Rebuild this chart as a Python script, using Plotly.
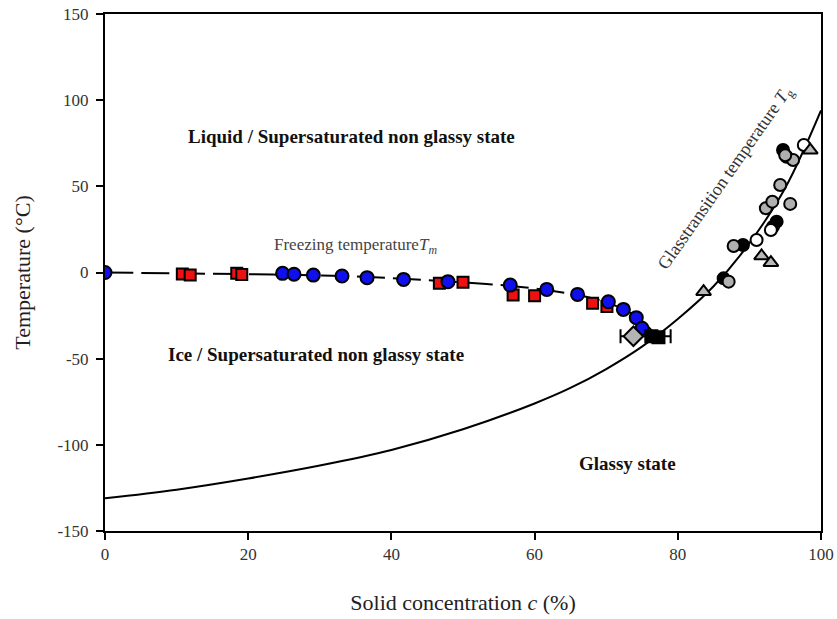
import plotly.graph_objects as go

# Freezing curve (Tm) and glass transition curve (Tg), read as T (°C) vs solid concentration c (%)
tm_curve_c = [0, 10, 20, 30, 35, 40, 45, 50, 55, 60, 63, 66, 69, 72, 74, 76, 77]
tm_curve_t = [0, -0.5, -1.0, -1.7, -2.3, -3.3, -4.4, -5.8, -7.2, -9.3, -11, -13, -16, -20.5, -25, -32, -37]

tg_curve_c = [0, 10, 20, 30, 40, 50, 60, 65, 70, 75, 80, 85, 90, 95, 100]
tg_curve_t = [-131, -126, -119.5, -112, -103, -91, -76, -67, -56, -43, -27, -8, 17, 49, 94]

# Freezing point measurements
blue_c = [0, 24.8, 26.4, 29.1, 33.1, 36.6, 41.7, 47.9, 56.6, 61.7, 66.0, 70.3, 72.4, 74.2, 75.0]
blue_t = [0, -0.5, -1.0, -1.5, -2.0, -3.0, -4.0, -5.3, -7.3, -9.8, -12.7, -17.0, -21.4, -26.2, -32.4]

red_c = [10.8, 11.9, 18.4, 19.1, 46.7, 50.0, 57.0, 60.0, 68.1, 70.1]
red_t = [-0.8, -1.5, -0.5, -1.2, -6.3, -5.7, -13.0, -13.5, -17.9, -19.8]

# Maximally freeze-concentrated point with uncertainty
tmp_c = [75.5]
tmp_t = [-37]
tmp_err = [3.5]

diamond_c = [73.8]
diamond_t = [-37]

black_sq_c = [76.3, 77.3]
black_sq_t = [-37, -37.5]

# Glass transition measurements
gray_circ_c = [87.1, 87.8, 92.3, 93.2, 95.7, 94.3, 96.1, 95.0]
gray_circ_t = [-5.3, 15.4, 37.3, 41.1, 39.8, 50.8, 65.3, 68.0]

black_circ_c = [86.4, 89.1, 93.3, 93.8, 94.7, 95.2]
black_circ_t = [-3.4, 16.0, 26.6, 29.5, 71.1, 67.2]

white_circ_c = [91.0, 93.0, 97.6]
white_circ_t = [18.9, 24.7, 74.0]

gray_tri_c = [83.6, 91.7, 93.0, 98.5]
gray_tri_t = [-11.1, 9.6, 5.7, 71.0]

# Axis ticks
x_ticks = [0, 20, 40, 60, 80, 100]
x_tick_labels = ["0", "20", "40", "60", "80", "100"]
y_ticks = [-150, -100, -50, 0, 50, 100, 150]
y_tick_labels = ["-150", "-100", "-50", "0", "50", "100", "150"]

SERIF = "Liberation Serif, Times New Roman, serif"
OUT = dict(color="black", width=2)

fig = go.Figure()

fig.add_trace(go.Scatter(x=tg_curve_c, y=tg_curve_t, mode="lines",
                         line=dict(color="black", width=2, shape="spline"),
                         hoverinfo="skip"))
fig.add_trace(go.Scatter(x=tm_curve_c, y=tm_curve_t, mode="lines",
                         line=dict(color="black", width=2, shape="spline", dash="28px,8px"),
                         hoverinfo="skip"))

fig.add_trace(go.Scatter(x=tmp_c, y=tmp_t, mode="markers",
                         marker=dict(size=1, color="black", opacity=0),
                         error_x=dict(type="data", array=tmp_err, color="black",
                                      thickness=2, width=7)))

fig.add_trace(go.Scatter(x=red_c, y=red_t, mode="markers",
                         marker=dict(symbol="square", size=11, color="#ee1111", line=OUT)))
fig.add_trace(go.Scatter(x=blue_c, y=blue_t, mode="markers",
                         marker=dict(symbol="circle", size=13, color="#1010ee", line=OUT)))
fig.add_trace(go.Scatter(x=diamond_c, y=diamond_t, mode="markers",
                         marker=dict(symbol="diamond", size=15, color="#b4b4b4", line=OUT)))
fig.add_trace(go.Scatter(x=black_sq_c, y=black_sq_t, mode="markers",
                         marker=dict(symbol="square", size=12, color="black", line=OUT)))

fig.add_trace(go.Scatter(x=black_circ_c, y=black_circ_t, mode="markers",
                         marker=dict(symbol="circle", size=12, color="black", line=OUT)))
fig.add_trace(go.Scatter(x=gray_circ_c, y=gray_circ_t, mode="markers",
                         marker=dict(symbol="circle", size=12, color="#b0b0b0", line=OUT)))
fig.add_trace(go.Scatter(x=white_circ_c, y=white_circ_t, mode="markers",
                         marker=dict(symbol="circle", size=12, color="white", line=OUT)))
fig.add_trace(go.Scatter(x=gray_tri_c, y=gray_tri_t, mode="markers",
                         marker=dict(symbol="triangle-up", size=13, color="#b8b8b8", line=OUT)))

bold = dict(family=SERIF, size=19, color="#111111")
fig.add_annotation(x=34.4, y=79, text="<b>Liquid / Supersaturated non glassy state</b>",
                   showarrow=False, font=bold)
fig.add_annotation(x=29.4, y=-47.3, text="<b>Ice / Supersaturated non glassy state</b>",
                   showarrow=False, font=bold)
fig.add_annotation(x=73.0, y=-111, text="<b>Glassy state</b>",
                   showarrow=False, font=bold)
fig.add_annotation(x=35.0, y=15.5, text="Freezing temperature<i>T</i><sub><i>m</i></sub>",
                   showarrow=False, font=dict(family=SERIF, size=17, color="#444444"))
fig.add_annotation(x=86.8, y=55, text="Glasstransition temperature <i>T</i><sub>g</sub>",
                   showarrow=False, textangle=-55,
                   font=dict(family=SERIF, size=18, color="#333333"))

axis_common = dict(showline=True, linecolor="black", linewidth=2, mirror=True,
                   ticks="outside", ticklen=7, tickwidth=2, tickcolor="black",
                   showgrid=False, zeroline=False, automargin=False,
                   tickfont=dict(family=SERIF, size=17, color="#333333"))

fig.update_xaxes(range=[0, 100], tickvals=x_ticks, ticktext=x_tick_labels,
                 title=dict(text="Solid concentration <i>c</i> (%)", standoff=31,
                            font=dict(family=SERIF, size=22, color="#222222")),
                 **axis_common)
fig.update_yaxes(range=[-150, 150], tickvals=y_ticks, ticktext=y_tick_labels,
                 ticklabelstandoff=4,
                 title=dict(text="Temperature (°C)", standoff=21,
                            font=dict(family=SERIF, size=22, color="#222222")),
                 **axis_common)

fig.update_layout(width=837, height=619, showlegend=False,
                  margin=dict(l=105, r=16, t=14, b=88),
                  plot_bgcolor="white", paper_bgcolor="white")

fig.write_html("out.html")
